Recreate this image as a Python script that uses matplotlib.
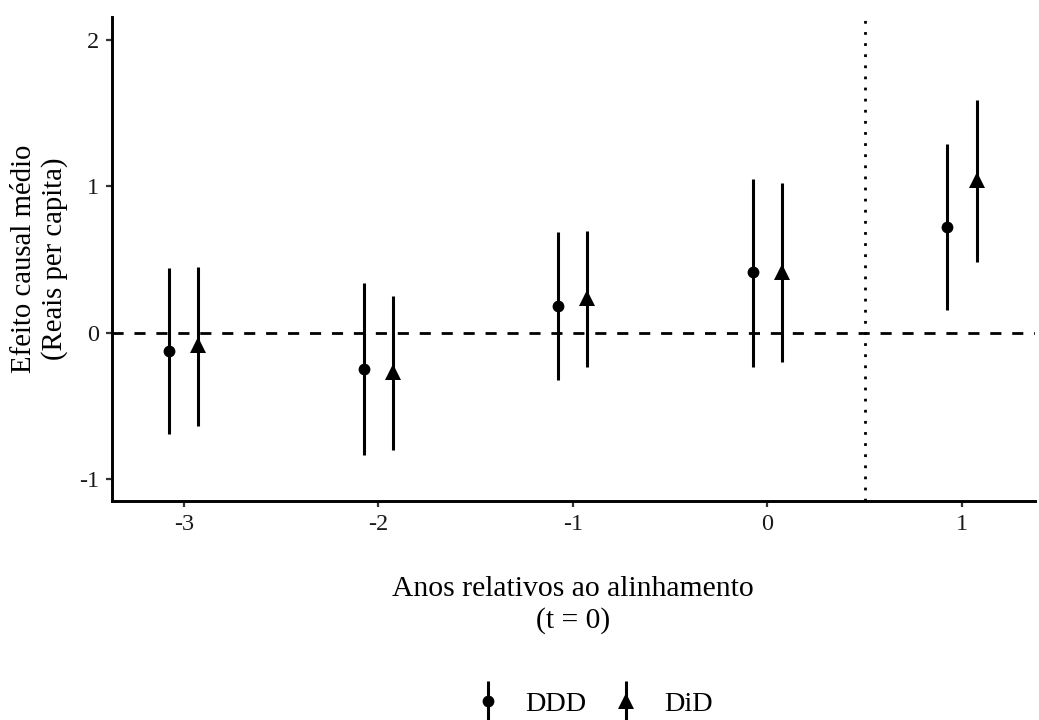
import matplotlib
matplotlib.use("Agg")
import matplotlib.pyplot as plt
from matplotlib.legend_handler import HandlerErrorbar
import numpy as np

plt.rcParams['font.family'] = ['Liberation Serif', 'DejaVu Serif']

# Event-time estimates (relative years) for both estimators
years = [-3, -2, -1, 0, 1]

ddd_est = [-0.125, -0.248, 0.180, 0.412, 0.723]
ddd_low = [-0.693, -0.834, -0.323, -0.234, 0.155]
ddd_high = [0.440, 0.337, 0.685, 1.053, 1.287]

did_est = [-0.080, -0.270, 0.240, 0.415, 1.045]
did_low = [-0.634, -0.800, -0.234, -0.200, 0.480]
did_high = [0.450, 0.250, 0.694, 1.021, 1.587]

x_labels = ["-3", "-2", "-1", "0", "1"]
y_ticks = [-1, 0, 1, 2]

fig = plt.figure(figsize=(10.39, 7.2), dpi=100)
ax = fig.add_axes([0.1075, 0.304, 0.8887, 0.672])

dodge = 0.075
x = np.array(years, dtype=float)


def pointrange(xpos, est, low, high, marker, ms, label):
    est = np.array(est)
    yerr = np.vstack([est - np.array(low), np.array(high) - est])
    return ax.errorbar(xpos, est, yerr=yerr, fmt=marker, color='black',
                       markersize=ms, elinewidth=2.2, capsize=0,
                       markeredgewidth=0, label=label, zorder=3)


# Reference lines: zero effect and treatment onset
ax.axhline(0, color='black', linestyle=(0, (4, 3.9)), linewidth=2.0, zorder=1)
ax.axvline(0.5, color='black', linestyle=(0, (1, 3)), linewidth=2.0, zorder=1)

h1 = pointrange(x - dodge, ddd_est, ddd_low, ddd_high, 'o', 8.5, 'DDD')
h2 = pointrange(x + dodge, did_est, did_low, did_high, '^', 11, 'DiD')

ax.set_xlim(-3.37, 1.375)
ax.set_ylim(-1.148, 2.153)
ax.set_xticks(years)
ax.set_xticklabels(x_labels)
ax.set_yticks(y_ticks)
ax.set_yticklabels([str(t) for t in y_ticks])

for side in ['top', 'right']:
    ax.spines[side].set_visible(False)
for side in ['left', 'bottom']:
    ax.spines[side].set_linewidth(2.1)
    ax.spines[side].set_color('black')

ax.tick_params(axis='both', length=4.3, width=1.6, color='#333333',
               labelsize=17.5, labelcolor='#1a1a1a', pad=5)

ax.set_xlabel("Anos relativos ao alinhamento\n(t = 0)", fontsize=21.3,
              linespacing=1.22)
ax.xaxis.set_label_coords(0.5, -0.155)
ax.set_ylabel("Efeito causal médio\n(Reais per capita)", fontsize=20.7,
              linespacing=1.22)
ax.yaxis.set_label_coords(-0.047, 0.5)

fig.legend(handles=[h1, h2], labels=['DDD', 'DiD'], loc='center',
           bbox_to_anchor=(0.571, 0.022), ncol=2, frameon=False,
           fontsize=20.3, handlelength=1.0, handletextpad=0.85,
           columnspacing=0.9,
           handler_map={type(h1): HandlerErrorbar(yerr_size=0.7)})

fig.savefig("out.png", dpi=100)
